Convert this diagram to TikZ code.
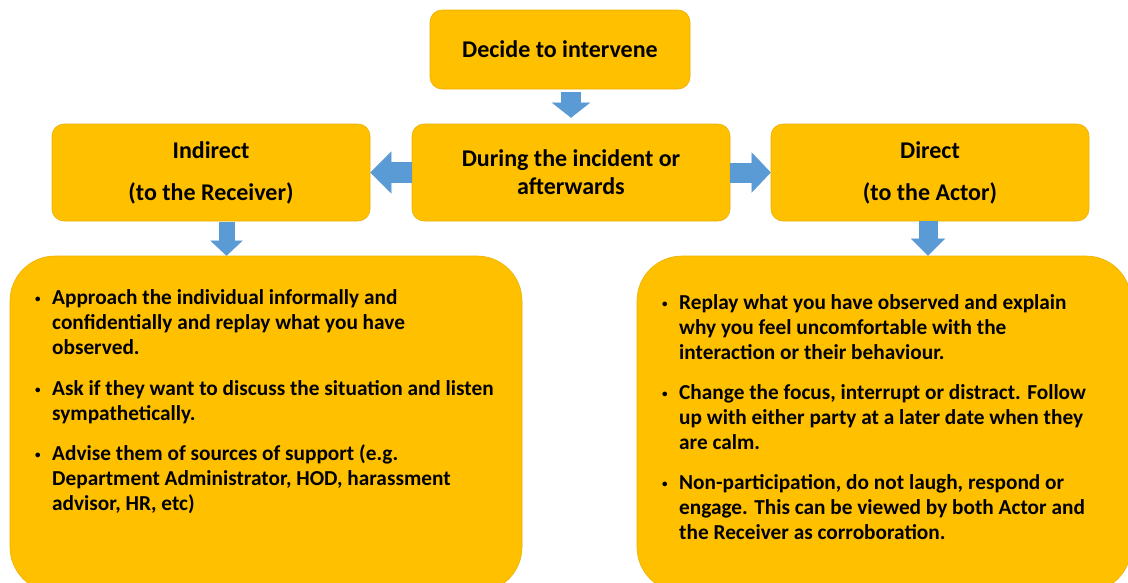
\documentclass[tikz,border=0pt]{standalone}
\usepackage{fontspec}
\setmainfont{Carlito}
\usetikzlibrary{arrows.meta,calc}
\definecolor{boxyellow}{HTML}{FFC000}
\definecolor{boxedge}{HTML}{EBB000}
\definecolor{arrowblue}{HTML}{5B9BD5}
\tikzset{
  box/.style={rectangle, rounded corners=12pt, fill=boxyellow, draw=boxedge, line width=0.6pt,
    font=\bfseries\fontsize{24}{28}\selectfont, align=center, inner sep=0pt},
  bigbox/.style={box, rounded corners=45pt},
  bodytext/.style={inner sep=0pt, anchor=north west, font=\bfseries\fontsize{21.3}{25}\selectfont, align=left},
  barrow/.style n args={3}{draw=arrowblue, line width=#1,
    -{Triangle[width=#2, length=#3, line width=0.01pt]}}
}
\newcommand{\bul}{\makebox[17pt][l]{\raisebox{1.5pt}{\fontsize{11}{11}\selectfont\textbullet}}}
\begin{document}
\begin{tikzpicture}[x=1pt, y=-1pt]
\useasboundingbox (0,0) rectangle (1128,582);
\fill[white] (0,0) rectangle (1128,582);
\node[box, minimum width=260pt, minimum height=79pt] (decide) at (560,49.5) {Decide to intervene};
\node[box, minimum width=318pt, minimum height=97pt] (during) at (571,172.5) {During the incident or\\afterwards};
\node[box, minimum width=318pt, minimum height=97pt] (indirect) at (211,172.5) {Indirect\\[14pt](to the Receiver)};
\node[box, minimum width=318pt, minimum height=97pt] (direct) at (930,172.5) {Direct\\[14pt](to the Actor)};
\begin{scope}
\clip (0,0) rectangle (1128,582);
\node[bigbox, minimum width=512pt, minimum height=336pt] (leftbox) at (266,424) {};
\node[bigbox, minimum width=494pt, minimum height=336pt] (rightbox) at (884,424) {};
\end{scope}
\node[bodytext] (ltext) at (35,286.5) {%
\begin{tabular}{@{}l@{}l@{}}
\bul & Approach the individual informally and\\
 & confidentially and replay what you have\\
 & observed.\\[16pt]
\bul & Ask if they want to discuss the situation and listen\\
 & sympathetically.\\[15pt]
\bul & Advise them of sources of support (e.g.\\
 & Department Administrator, HOD, harassment\\
 & advisor, HR, etc)
\end{tabular}};
\node[bodytext] (rtext) at (662,291.5) {%
\begin{tabular}{@{}l@{}l@{}}
\bul & Replay what you have observed and explain\\
 & why you feel uncomfortable with the\\
 & interaction or their behaviour.\\[15pt]
\bul & Change the focus, interrupt or distract. Follow\\
 & up with either party at a later date when they\\
 & are calm.\\[15pt]
\bul & Non-participation, do not laugh, respond or\\
 & engage. This can be viewed by both Actor and\\
 & the Receiver as corroboration.
\end{tabular}};
% block arrows
\draw[barrow={20pt}{38pt}{15pt}, shorten <=3pt, shorten >=6pt] (during.north |- decide.south) -- (during.north);
\draw[barrow={21pt}{42pt}{21pt}] (during.west) -- (indirect.east);
\draw[barrow={20pt}{40pt}{19pt}] (during.east) -- (direct.west);
\draw[barrow={16pt}{32pt}{15pt}, shorten <=0.5pt] ([xshift=15.5pt]indirect.south) -- ([xshift=15.5pt]indirect.south |- leftbox.north);
\draw[barrow={19pt}{34pt}{17pt}, shorten <=-0.5pt] ([xshift=-2pt]direct.south) -- ([xshift=-2pt]direct.south |- rightbox.north);
\end{tikzpicture}
\end{document}
